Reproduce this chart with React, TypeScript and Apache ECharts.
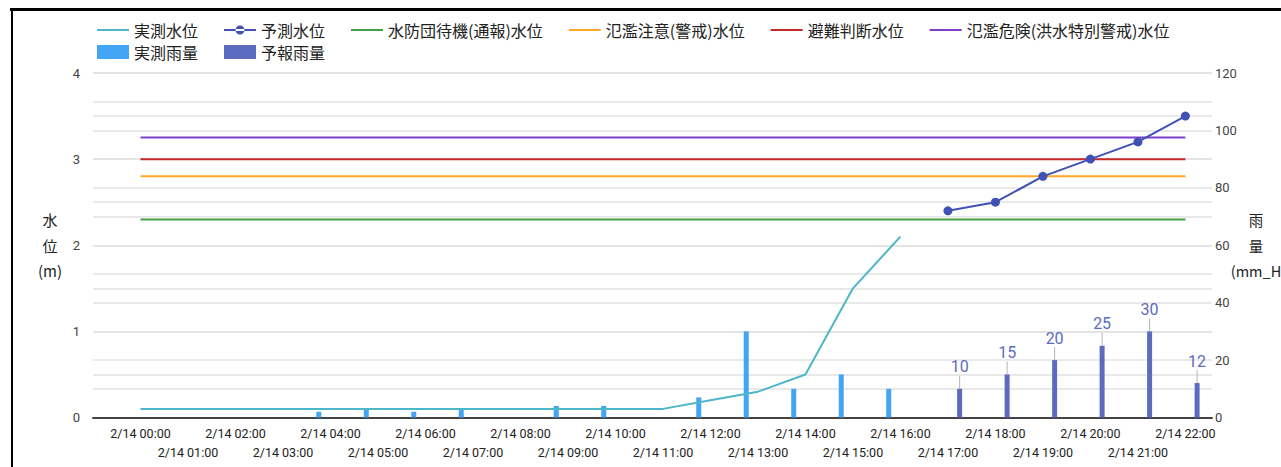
import React, { useEffect, useRef } from "react";
import * as echarts from "echarts";

const categories = [
  "2/14 00:00", "2/14 01:00", "2/14 02:00", "2/14 03:00", "2/14 04:00", "2/14 05:00",
  "2/14 06:00", "2/14 07:00", "2/14 08:00", "2/14 09:00", "2/14 10:00", "2/14 11:00",
  "2/14 12:00", "2/14 13:00", "2/14 14:00", "2/14 15:00", "2/14 16:00", "2/14 17:00",
  "2/14 18:00", "2/14 19:00", "2/14 20:00", "2/14 21:00", "2/14 22:00",
];

// 実測水位 (m)
const observedLevel: (number | null)[] = [
  0.1, 0.1, 0.1, 0.1, 0.1, 0.1, 0.1, 0.1, 0.1, 0.1, 0.1, 0.1,
  0.2, 0.3, 0.5, 1.5, 2.1, null, null, null, null, null, null,
];
// 予測水位 (m)
const forecastLevel: (number | null)[] = [
  null, null, null, null, null, null, null, null, null, null, null, null,
  null, null, null, null, null, 2.4, 2.5, 2.8, 3.0, 3.2, 3.5,
];
// 実測雨量 (mm)
const observedRain: (number | null)[] = [
  null, null, null, null, 2, 3, 2, 3, null, 4, 4, null,
  7, 30, 10, 15, 10, null, null, null, null, null, null,
];
// 予報雨量 (mm)
const forecastRain: (number | null)[] = [
  null, null, null, null, null, null, null, null, null, null, null, null,
  null, null, null, null, null, 10, 15, 20, 25, 30, 12,
];

// 基準水位 (m)
const standbyLevel = 2.3;
const warningLevel = 2.8;
const evacuationLevel = 3.0;
const dangerLevel = 3.25;

const leftTicks = [0, 1, 2, 3, 4];
const rightTicks = [0, 20, 40, 60, 80, 100, 120];

const toPairs = (arr: (number | null)[]) =>
  arr.map((v, i) => [i, v] as [number, number | null]).filter((p) => p[1] !== null);

const levelLine = (lvl: number) => [
  [0, lvl],
  [categories.length - 1, lvl],
];

const JP = '"Noto Sans CJK JP", "Noto Sans", sans-serif';
const LINE_ICON = "path://M0,0L32,0L32,2L0,2Z";
const DOT_LINE_ICON = "path://M0,6L32,6L32,8L0,8Z M11.5,7A4.5,4.5,0,1,0,20.5,7A4.5,4.5,0,1,0,11.5,7Z";

export default function App() {
  const ref = useRef<HTMLDivElement>(null);

  useEffect(() => {
    if (!ref.current) return;
    const chart = echarts.init(ref.current, undefined, { renderer: "svg" });

    const lineLegend = [
      { name: "実測水位", icon: LINE_ICON },
      { name: "予測水位", icon: DOT_LINE_ICON },
      { name: "水防団待機(通報)水位", icon: LINE_ICON },
      { name: "氾濫注意(警戒)水位", icon: LINE_ICON },
      { name: "避難判断水位", icon: LINE_ICON },
      { name: "氾濫危険(洪水特別警戒)水位", icon: LINE_ICON },
    ];
    const barLegend = [
      { name: "実測雨量", icon: "rect" },
      { name: "予報雨量", icon: "rect" },
    ];

    const thresholdSeries = (name: string, lvl: number, color: string) => ({
      name,
      type: "line",
      yAxisIndex: 0,
      data: levelLine(lvl),
      symbol: "none",
      lineStyle: { color, width: 2 },
      itemStyle: { color },
      z: 3,
    });

    const legendBase = {
      left: 92,
      itemWidth: 32,
      itemHeight: 14,
      itemGap: 26,
      padding: [2, 5],
      symbolKeepAspect: true,
      textStyle: { fontSize: 16, lineHeight: 16, color: "#222", fontFamily: JP },
    };

    const nameStyle = {
      align: "center",
      verticalAlign: "middle",
      lineHeight: 25.5,
      color: "#222",
      fontFamily: JP,
    };

    const option: any = {
      animation: false,
      textStyle: { fontFamily: "Roboto, sans-serif" },
      graphic: [
        { type: "line", shape: { x1: 10, y1: 9.5, x2: 1281, y2: 9.5 }, style: { stroke: "#000", lineWidth: 3 } },
        { type: "line", shape: { x1: 12, y1: 8, x2: 12, y2: 467 }, style: { stroke: "#000", lineWidth: 2 } },
      ],
      grid: { left: 93, right: 69, top: 73, bottom: 49.5, outerBoundsMode: "none", containLabel: false },
      legend: [
        { ...legendBase, data: lineLegend, top: 20 },
        { ...legendBase, data: barLegend, top: 42 },
      ],
      xAxis: {
        type: "value",
        min: -1,
        max: 22.56,
        interval: 1,
        splitLine: { show: false },
        axisTick: { show: false },
        axisLine: { show: true, onZero: false, lineStyle: { color: "#444", width: 2 } },
        axisLabel: {
          showMaxLabel: false,
          color: "#222",
          fontSize: 12.5,
          lineHeight: 18.5,
          margin: 7,
          formatter: (v: number) => {
            const i = Math.round(v);
            if (Math.abs(v - i) > 1e-6 || i < 0 || i >= categories.length) return "";
            return i % 2 === 0 ? categories[i] : "\n" + categories[i];
          },
        },
      },
      yAxis: [
        {
          type: "value",
          min: 0,
          max: 4,
          interval: 0.5,
          name: "水\n位\n(m)",
          nameLocation: "middle",
          nameRotate: 0,
          nameGap: 43,
          nameMoveOverlap: false,
          nameTextStyle: { ...nameStyle, fontSize: 15 },
          axisLine: { show: false },
          axisTick: { show: false },
          axisLabel: {
            color: "#444",
            fontSize: 13,
            margin: 13,
            formatter: (v: number) => (leftTicks.includes(v) ? String(v) : ""),
          },
          splitLine: { lineStyle: { color: "#e2e2e2", width: 1.5 } },
        },
        {
          type: "value",
          min: 0,
          max: 120,
          interval: 10,
          position: "right",
          name: "雨\n量\n(mm_H",
          nameLocation: "middle",
          nameRotate: 0,
          nameGap: 44,
          nameMoveOverlap: false,
          nameTextStyle: { ...nameStyle, fontSize: 14.5 },
          axisLine: { show: false },
          axisTick: { show: false },
          axisLabel: {
            color: "#444",
            fontSize: 13,
            margin: 3,
            formatter: (v: number) => (rightTicks.includes(v) ? String(v) : ""),
          },
          splitLine: { lineStyle: { color: "#e2e2e2", width: 1.5 } },
        },
      ],
      series: [
        {
          name: "実測雨量",
          type: "bar",
          yAxisIndex: 1,
          data: toPairs(observedRain),
          barWidth: 5,
          barGap: "368%",
          itemStyle: { color: "#42a5f5" },
          z: 1,
        },
        {
          name: "予報雨量",
          type: "bar",
          yAxisIndex: 1,
          data: toPairs(forecastRain),
          barWidth: 5,
          barGap: "368%",
          itemStyle: { color: "#5c6bc0" },
          z: 1,
          label: {
            show: true,
            position: "top",
            distance: 0,
            formatter: (p: any) => `{v|${p.value[1]}}\n{s| }`,
            rich: {
              v: { color: "#5c6bc0", fontSize: 16, lineHeight: 18, fontFamily: "Roboto" },
              s: { width: 1, height: 13, lineHeight: 13, backgroundColor: "#b5b5b5", fontSize: 1 },
            },
          },
        },
        {
          name: "実測水位",
          type: "line",
          yAxisIndex: 0,
          data: toPairs(observedLevel),
          symbol: "none",
          lineStyle: { color: "#4db6c8", width: 2 },
          itemStyle: { color: "#4db6c8" },
          z: 4,
        },
        {
          name: "予測水位",
          type: "line",
          yAxisIndex: 0,
          data: toPairs(forecastLevel),
          symbol: "circle",
          symbolSize: 9,
          lineStyle: { color: "#3f51b5", width: 2 },
          itemStyle: { color: "#3f51b5" },
          z: 5,
        },
        thresholdSeries("水防団待機(通報)水位", standbyLevel, "#43a047"),
        thresholdSeries("氾濫注意(警戒)水位", warningLevel, "#ffa726"),
        thresholdSeries("避難判断水位", evacuationLevel, "#c62828"),
        thresholdSeries("氾濫危険(洪水特別警戒)水位", dangerLevel, "#7e3fc9"),
      ],
    };

    chart.setOption(option);
    return () => chart.dispose();
  }, []);

  return (
    <div
      ref={ref}
      style={{ position: "absolute", left: 0, top: 0, width: 1281, height: 467, background: "#fff" }}
    />
  );
}
